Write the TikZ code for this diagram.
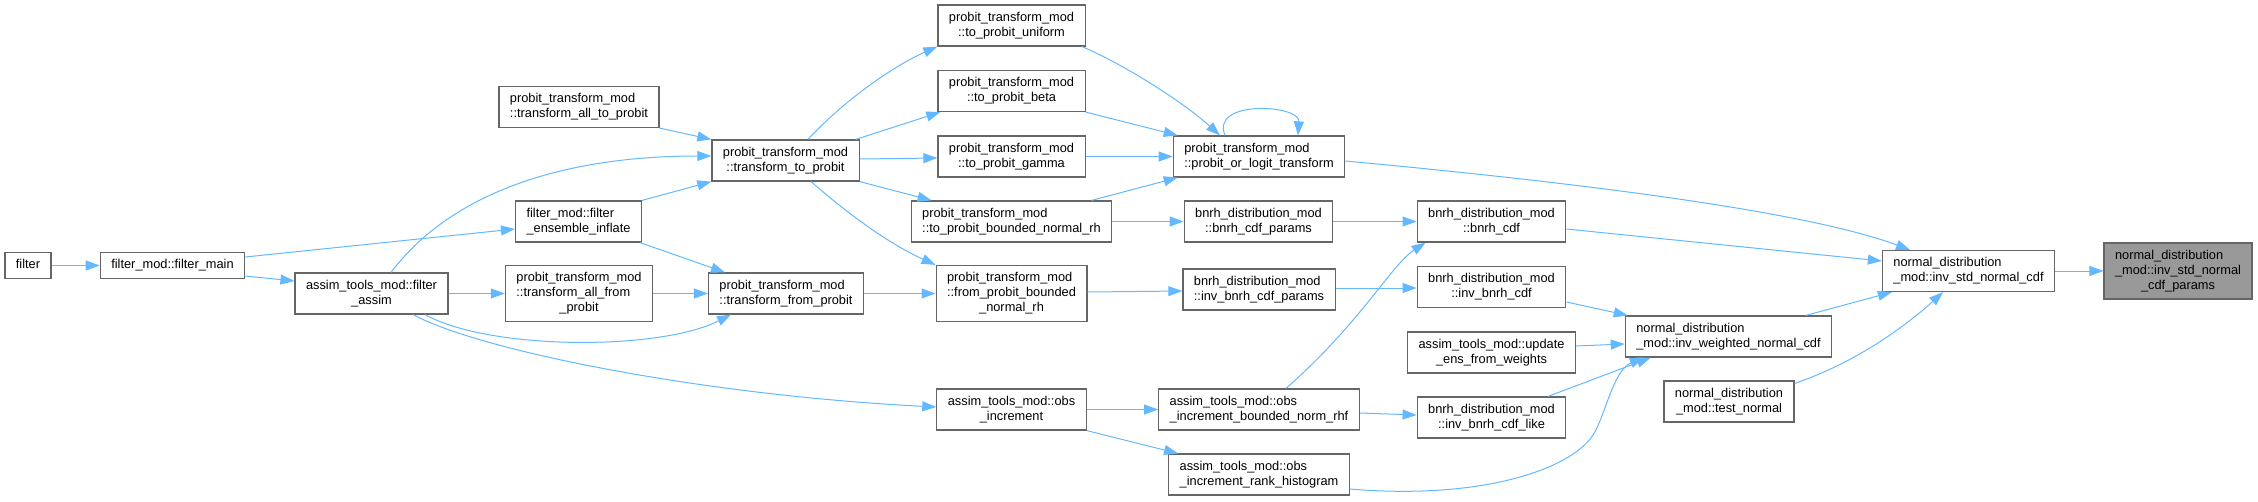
\documentclass[tikz,border=0pt]{standalone}
\usepackage{fontspec}
\setmainfont{Liberation Sans}
\usepackage{tikz}
\usetikzlibrary{arrows.meta}
\definecolor{edgeblue}{HTML}{63B8FF}
\definecolor{boxgray}{HTML}{666666}
\definecolor{hilite}{HTML}{999999}
% label: leading lines left, last line centred
\newcommand{\fnl}[2]{\begin{tabular}{@{}l@{}}#1\\\multicolumn{1}{@{}c@{}}{#2}\end{tabular}}
\newcommand{\fns}[1]{\begin{tabular}{@{}c@{}}#1\end{tabular}}

\begin{document}
\begin{tikzpicture}[x=1pt, y=-1pt,
    fn/.style={draw=boxgray, line width=1.2pt, fill=white, inner xsep=11pt, inner ysep=5.5pt,
      font=\fontsize{12.8}{15}\selectfont},
    fncur/.style={fn, fill=hilite},
    call/.style={edgeblue, line width=1pt, -{Triangle[length=14pt,width=10pt]}}]
    \useasboundingbox (0,0) rectangle (2258,501);

    % Callers, left to right
    \node[fn] (filt) at (28,265.5) {\fns{filter}};
    \node[fn] (fmain) at (172.5,265.5) {\fns{filter\_mod::filter\_main}};
    \node[fn] (fassim) at (371.5,293.5) {\fnl{assim\_tools\_mod::filter}{\_assim}};
    \node[fn] (allto) at (579,107) {\fnl{probit\_transform\_mod}{::transform\_all\_to\_probit}};
    \node[fn] (inflate) at (578.5,221.5) {\fnl{filter\_mod::filter}{\_ensemble\_inflate}};
    \node[fn] (allfrom) at (579,293.5) {\fnl{probit\_transform\_mod\\::transform\_all\_from}{\_probit}};
    \node[fn] (toprob) at (785.5,160.5) {\fnl{probit\_transform\_mod}{::transform\_to\_probit}};
    \node[fn] (fromprob) at (786,293.5) {\fnl{probit\_transform\_mod}{::transform\_from\_probit}};
    \node[fn] (uniform) at (1011.5,25.5) {\fnl{probit\_transform\_mod}{::to\_probit\_uniform}};
    \node[fn] (beta) at (1011.5,91) {\fnl{probit\_transform\_mod}{::to\_probit\_beta}};
    \node[fn] (gamma) at (1011.5,156.5) {\fnl{probit\_transform\_mod}{::to\_probit\_gamma}};
    \node[fn] (tobnrh) at (1011.5,221.5) {\fnl{probit\_transform\_mod}{::to\_probit\_bounded\_normal\_rh}};
    \node[fn] (frombnrh) at (1011.5,293.5) {\fnl{probit\_transform\_mod\\::from\_probit\_bounded}{\_normal\_rh}};
    \node[fn] (obsinc) at (1011.5,409.5) {\fnl{assim\_tools\_mod::obs}{\_increment}};
    \node[fn] (polt) at (1259,156.5) {\fnl{probit\_transform\_mod}{::probit\_or\_logit\_transform}};
    \node[fn] (cdfpar) at (1258.5,221.5) {\fnl{bnrh\_distribution\_mod}{::bnrh\_cdf\_params}};
    \node[fn] (invcdfpar) at (1259,289.5) {\fnl{bnrh\_distribution\_mod}{::inv\_bnrh\_cdf\_params}};
    \node[fn] (obsrhf) at (1259,409.5) {\fnl{assim\_tools\_mod::obs}{\_increment\_bounded\_norm\_rhf}};
    \node[fn] (obsrank) at (1259,474.5) {\fnl{assim\_tools\_mod::obs}{\_increment\_rank\_histogram}};
    \node[fn] (bcdf) at (1491.5,221.5) {\fnl{bnrh\_distribution\_mod}{::bnrh\_cdf}};
    \node[fn] (invbcdf) at (1491.5,287) {\fnl{bnrh\_distribution\_mod}{::inv\_bnrh\_cdf}};
    \node[fn] (upd) at (1491.5,352.5) {\fnl{assim\_tools\_mod::update}{\_ens\_from\_weights}};
    \node[fn] (like) at (1491.5,417.5) {\fnl{bnrh\_distribution\_mod}{::inv\_bnrh\_cdf\_like}};
    \node[fn] (invw) at (1728.5,336.5) {\fnl{normal\_distribution}{\_mod::inv\_weighted\_normal\_cdf}};
    \node[fn] (testn) at (1729,401.5) {\fnl{normal\_distribution}{\_mod::test\_normal}};
    \node[fn] (invstd) at (1968.5,271) {\fnl{normal\_distribution}{\_mod::inv\_std\_normal\_cdf}};
    \node[fncur] (params) at (2178,271) {\fnl{normal\_distribution\\\_mod::inv\_std\_normal}{\_cdf\_params}};
    \coordinate (bend) at (1593,435);

    % Calls
    \draw[call] (filt.east) -- (fmain.west);
    \draw[call] ([yshift=8.5pt]fmain.east) -- ([yshift=-7.5pt]inflate.west);
    \draw[call] ([yshift=-10.5pt]fmain.east) -- ([yshift=12.5pt]fassim.west);
    \draw[call] ([xshift=19.5pt]fassim.north) .. controls +(59,-78) and +(-152,0) .. ([yshift=4.5pt]toprob.west);
    \draw[call] (fassim.east) -- (allfrom.west);
    \draw[call] ([xshift=53.5pt]fassim.south) .. controls +(65,36) and +(-71,36) .. ([xshift=-55pt]fromprob.south);
    \draw[call] ([xshift=41.5pt]fassim.south) .. controls +(67,36) and +(-235,-12) .. ([yshift=2.5pt]obsinc.west);
    \draw[call] (allto.south east) -- (toprob.north west);
    \draw[call] (inflate.north east) -- (toprob.south west);
    \draw[call] ([xshift=-2pt]inflate.south east) -- ([xshift=-61pt]fromprob.north);
    \draw[call] (allfrom.east) -- (fromprob.west);
    \draw[call] ([xshift=22.5pt]toprob.north) .. controls +(37,-40) and +(-43,19) .. (uniform.south west);
    \draw[call] ([xshift=-4pt]toprob.north east) -- ([xshift=3pt]beta.south west);
    \draw[call] ([yshift=1.5pt]toprob.east) -- ([yshift=-1.5pt]gamma.west);
    \draw[call] (toprob.south east) -- ([xshift=21pt]tobnrh.north west);
    \draw[call] ([xshift=25.5pt]toprob.south) .. controls +(39,34) and +(-46,-21) .. (frombnrh.north west);
    \draw[call] (fromprob.east) -- (frombnrh.west);
    \draw[call] ([xshift=70.5pt]uniform.south) .. controls +(38,16) and +(-40,-36) .. ([xshift=-39pt]polt.north);
    \draw[call] (beta.south east) -- ([xshift=5pt]polt.north west);
    \draw[call] (gamma.east) -- (polt.west);
    \draw[call] ([xshift=-21pt]tobnrh.north east) -- ([xshift=5pt]polt.south west);
    \draw[call] ([xshift=-34pt]polt.north) .. controls +(-15,-36) and +(2,-31) .. ([xshift=39pt]polt.north);
    \draw[call] (tobnrh.east) -- (cdfpar.west);
    \draw[call] ([yshift=1.5pt]frombnrh.east) -- ([yshift=-1.5pt]invcdfpar.west);
    \draw[call] (obsinc.east) -- (obsrhf.west);
    \draw[call] (obsinc.south east) -- ([xshift=10pt]obsrank.north west);
    \draw[call] (cdfpar.east) -- (bcdf.west);
    \draw[call] ([yshift=1.5pt]invcdfpar.east) -- ([yshift=-1pt]invbcdf.west);
    \draw[call] ([xshift=27pt]obsrhf.north) .. controls +(75,-66) and +(-34,22) .. ([xshift=9pt]bcdf.south west);
    \draw[call] ([yshift=-3.5pt]obsrhf.east) -- ([yshift=2.5pt]like.west);
    \draw[call] ([yshift=-14.5pt]obsrank.east) .. controls +(130,11) and +(-23,35) .. (bend)
        .. controls +(12,-18) and +(-31,13) .. ([xshift=19pt]invw.south west);
    \draw[call] ([yshift=-4.5pt]polt.east) .. controls +(205,19) and +(-110,-41) .. ([xshift=-58.5pt]invstd.north);
    \draw[call] ([yshift=-7.5pt]bcdf.east) -- ([yshift=10pt]invstd.west);
    \draw[call] ([yshift=-15pt]invbcdf.east) -- ([xshift=3pt]invw.north west);
    \draw[call] ([yshift=6.5pt]upd.east) -- ([yshift=-7.5pt]invw.west);
    \draw[call] ([xshift=56.5pt]like.north) -- ([xshift=26pt]invw.south west);
    \draw[call] ([xshift=77.5pt]invw.north) -- ([xshift=10pt]invstd.south west);
    \draw[call] ([yshift=-3pt]testn.north east) .. controls +(56,-19) and +(-43,39) .. ([xshift=-25.5pt]invstd.south);
    \draw[call] (invstd.east) -- (params.west);
\end{tikzpicture}
\end{document}
